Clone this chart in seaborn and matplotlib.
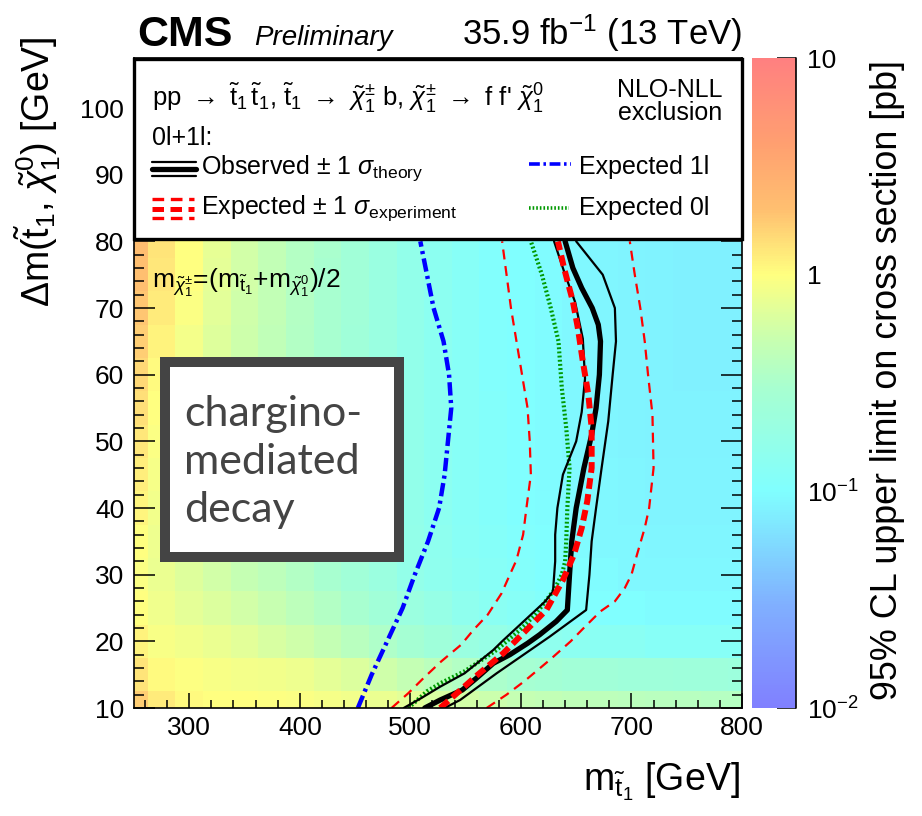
import numpy as np
import matplotlib
matplotlib.use("Agg")
import matplotlib.pyplot as plt
import seaborn as sns
from matplotlib.colors import LinearSegmentedColormap, LogNorm
from matplotlib.patches import Rectangle
from matplotlib.lines import Line2D
from matplotlib.ticker import MultipleLocator, LogLocator, NullFormatter

# upper limit map: stop mass (columns) x delta m (rows), values in pb
mstop = [250, 275, 300, 325, 350, 375, 400, 425, 450, 475, 500, 525,
         550, 575, 600, 625, 650, 675, 700, 725, 750, 775, 800]
dm = [10, 15, 20, 25, 30, 35, 40, 45, 50, 55, 60, 65, 70, 75, 80]
xsec_limit = [
    [1.7, 1.25, 1.05, 1.0, 1.0, 0.98, 0.95, 0.9, 0.85, 0.78, 0.7, 0.62, 0.56, 0.52, 0.48, 0.45, 0.43, 0.42, 0.41, 0.40, 0.39, 0.38, 0.38],
    [1.35, 1.05, 0.98, 0.92, 0.88, 0.84, 0.8, 0.72, 0.64, 0.55, 0.47, 0.41, 0.36, 0.32, 0.29, 0.27, 0.26, 0.25, 0.24, 0.24, 0.23, 0.23, 0.22],
    [1.15, 0.92, 0.85, 0.78, 0.7, 0.62, 0.55, 0.47, 0.4, 0.34, 0.28, 0.24, 0.2, 0.18, 0.16, 0.15, 0.14, 0.13, 0.13, 0.12, 0.12, 0.12, 0.12],
    [1.0, 0.82, 0.72, 0.64, 0.56, 0.49, 0.42, 0.36, 0.3, 0.25, 0.21, 0.18, 0.15, 0.13, 0.12, 0.11, 0.105, 0.1, 0.1, 0.095, 0.095, 0.095, 0.095],
    [0.95, 0.78, 0.66, 0.56, 0.48, 0.42, 0.36, 0.3, 0.25, 0.21, 0.17, 0.15, 0.13, 0.12, 0.11, 0.1, 0.1, 0.095, 0.09, 0.09, 0.09, 0.09, 0.09],
    [1.0, 0.8, 0.68, 0.57, 0.48, 0.41, 0.35, 0.29, 0.24, 0.2, 0.17, 0.145, 0.125, 0.115, 0.105, 0.1, 0.095, 0.09, 0.09, 0.088, 0.088, 0.088, 0.088],
    [1.1, 0.85, 0.7, 0.58, 0.48, 0.41, 0.35, 0.29, 0.24, 0.2, 0.165, 0.14, 0.12, 0.11, 0.1, 0.097, 0.093, 0.09, 0.088, 0.086, 0.086, 0.086, 0.086],
    [1.2, 0.9, 0.72, 0.59, 0.49, 0.41, 0.35, 0.29, 0.24, 0.2, 0.165, 0.14, 0.12, 0.11, 0.1, 0.095, 0.092, 0.09, 0.087, 0.085, 0.085, 0.085, 0.085],
    [1.3, 0.95, 0.75, 0.6, 0.5, 0.42, 0.35, 0.29, 0.24, 0.2, 0.165, 0.14, 0.12, 0.108, 0.1, 0.095, 0.09, 0.088, 0.086, 0.084, 0.084, 0.084, 0.084],
    [1.4, 1.0, 0.78, 0.62, 0.51, 0.42, 0.35, 0.29, 0.24, 0.2, 0.165, 0.14, 0.12, 0.108, 0.1, 0.094, 0.09, 0.087, 0.085, 0.083, 0.083, 0.083, 0.083],
    [1.55, 1.05, 0.82, 0.64, 0.52, 0.43, 0.36, 0.3, 0.245, 0.2, 0.165, 0.14, 0.12, 0.107, 0.1, 0.094, 0.09, 0.087, 0.085, 0.083, 0.082, 0.082, 0.082],
    [1.7, 1.15, 0.88, 0.67, 0.54, 0.44, 0.36, 0.3, 0.245, 0.2, 0.165, 0.14, 0.12, 0.107, 0.1, 0.094, 0.09, 0.087, 0.085, 0.083, 0.082, 0.082, 0.082],
    [1.85, 1.25, 0.95, 0.7, 0.55, 0.45, 0.37, 0.3, 0.25, 0.2, 0.165, 0.14, 0.12, 0.107, 0.1, 0.094, 0.09, 0.087, 0.085, 0.083, 0.082, 0.082, 0.082],
    [2.0, 1.3, 1.0, 0.72, 0.56, 0.45, 0.37, 0.3, 0.25, 0.2, 0.165, 0.14, 0.12, 0.107, 0.1, 0.094, 0.09, 0.087, 0.085, 0.083, 0.082, 0.082, 0.082],
    [2.1, 1.35, 1.0, 0.74, 0.57, 0.46, 0.37, 0.31, 0.25, 0.2, 0.165, 0.14, 0.12, 0.107, 0.1, 0.094, 0.09, 0.087, 0.085, 0.083, 0.082, 0.082, 0.082],
]

# exclusion contours (delta m, stop mass)
obs_dm = [10, 11.2, 12.7, 14.5, 16.7, 18, 19.7, 21, 23, 24.7, 30, 35, 40, 46, 51, 55, 60, 65, 67.5, 70, 73, 76, 80]
obs_m = [513, 527, 547, 560, 575, 590, 606, 617, 632, 642, 644, 646, 650, 657, 664, 668, 671, 672, 670, 664.5, 655, 647, 640]
obs_lo_dm = [10, 11.5, 13.2, 15.2, 18.7, 20, 22, 24, 26, 27.5, 32, 36, 40, 45, 50, 54.4, 59.4, 65.4, 70.9, 75, 80]
obs_lo_m = [494, 510, 527, 549, 575, 583, 596, 609, 622, 629, 631, 631, 633, 638, 650, 655, 658, 656, 649, 640, 630]
obs_hi_dm = [10, 11.2, 15.2, 20.7, 24.7, 30, 35, 40, 46, 53, 60, 65, 70, 75, 80]
obs_hi_m = [531, 545, 578, 626, 659, 662, 664, 668, 673, 679, 683, 686, 685, 674, 650]
exp_dm = [10, 12.2, 15, 18.2, 21.2, 24.7, 29.2, 33, 37, 41, 46, 52, 57, 62, 67, 71, 76, 80]
exp_m = [527, 542, 561, 584, 602, 623, 638, 648, 655, 660, 664, 664, 661, 656, 651.5, 647, 639, 633.5]
exp_lo_dm = [10, 12.2, 14.5, 17, 19.5, 21.7, 24, 27.2, 30, 32.2, 36, 40, 45, 50, 55, 60, 65, 70, 75, 80]
exp_lo_m = [483, 498, 512, 528, 546, 557, 570, 582.5, 590, 596, 602, 605, 609, 608, 606, 601, 596, 591, 587, 583]
exp_hi_dm = [10, 12, 14, 17.2, 20, 22.2, 24.5, 26, 28, 30, 33, 37, 40, 46, 54, 60, 65, 70, 75, 80]
exp_hi_m = [569, 587, 603, 626, 645, 658, 672, 685, 694, 700, 705, 712, 716, 720, 719, 715, 712, 708, 703, 698.5]
exp1l_dm = [10, 15, 20, 25, 30, 35, 40, 45, 50, 55, 60, 65, 70, 75, 80]
exp1l_m = [452.5, 465, 479, 493, 504, 516, 526, 531, 534, 537, 535, 530, 521, 515, 509]
exp0l_dm = [10, 11, 12.5, 13.7, 15.5, 18.7, 21.7, 24, 27.7, 30, 32, 35, 40, 46, 52, 58, 65, 70, 75, 80]
exp0l_m = [498, 505, 515, 527, 549, 578, 599, 613, 630, 637, 640, 641, 642, 644, 641, 637, 634, 627, 619, 609]

W, H = 922, 816


def fx(px):
    return px / W


def fy(py):
    return 1 - py / H


sns.set_style("ticks")
plt.rcParams["font.family"] = ["Liberation Sans", "DejaVu Sans"]
plt.rcParams["mathtext.fontset"] = "custom"
plt.rcParams["mathtext.rm"] = "Liberation Sans"
plt.rcParams["mathtext.it"] = "Liberation Sans:italic"
plt.rcParams["mathtext.bf"] = "Liberation Sans:bold"
plt.rcParams["mathtext.sf"] = "Liberation Sans"
for key in ["text.color", "axes.labelcolor", "xtick.color", "ytick.color",
            "xtick.labelcolor", "ytick.labelcolor"]:
    plt.rcParams[key] = "black"

# pastel rainbow palette, positions in log10 space from 1e-2 to 10
pal = LinearSegmentedColormap.from_list("root_rainbow", [
    (0.0, "#8080ff"), (0.159, "#80b0ff"), (0.333, "#80ffff"),
    (0.493, "#a8ffd0"), (0.567, "#c8ffb0"), (0.667, "#ffff80"),
    (0.767, "#ffc070"), (0.867, "#ffa070"), (1.0, "#ff8080")])
norm = LogNorm(vmin=0.01, vmax=10)

fig = plt.figure(figsize=(W / 100, H / 100), dpi=100)
ax = fig.add_axes([fx(134), fy(708), (742 - 134) / W, (708 - 58) / H])
cax = fig.add_axes([fx(752), fy(708), 44 / W, 650 / H])

mesh = ax.pcolormesh(mstop, dm, np.array(xsec_limit), cmap=pal, norm=norm,
                     shading="nearest", zorder=0)

sns.lineplot(x=exp1l_m, y=exp1l_dm, sort=False, estimator=None, ax=ax,
             color="#0000ff", linewidth=3.2, linestyle=(0, (3, 1, 0.7, 1)))
sns.lineplot(x=exp0l_m, y=exp0l_dm, sort=False, estimator=None, ax=ax,
             color="#009900", linewidth=3.0, linestyle=(0, (0.45, 0.55)))
for xs, ys in [(obs_lo_m, obs_lo_dm), (obs_hi_m, obs_hi_dm)]:
    sns.lineplot(x=xs, y=ys, sort=False, estimator=None, ax=ax,
                 color="black", linewidth=1.6)
sns.lineplot(x=obs_m, y=obs_dm, sort=False, estimator=None, ax=ax,
             color="black", linewidth=3.8)
for xs, ys in [(exp_lo_m, exp_lo_dm), (exp_hi_m, exp_hi_dm)]:
    sns.lineplot(x=xs, y=ys, sort=False, estimator=None, ax=ax,
                 color="#ff0000", linewidth=1.6, linestyle=(0, (4.5, 3)))
sns.lineplot(x=exp_m, y=exp_dm, sort=False, estimator=None, ax=ax,
             color="#ff0000", linewidth=4.3, linestyle=(0, (1.8, 0.9)))

ax.set_xlim(250, 800)
ax.set_ylim(10, 107.5)
ax.set_xlabel("")
ax.set_ylabel("")
ax.xaxis.set_major_locator(MultipleLocator(100))
ax.xaxis.set_minor_locator(MultipleLocator(20))
ax.yaxis.set_major_locator(MultipleLocator(10))
ax.yaxis.set_minor_locator(MultipleLocator(2))
ax.tick_params(which="both", direction="in", top=True, right=True,
               labelsize=19, width=1.1, color="black", labelcolor="black")
ax.tick_params(axis="x", which="major", length=11, pad=6)
ax.tick_params(axis="x", which="minor", length=6)
ax.tick_params(axis="y", which="major", length=15, pad=7)
ax.tick_params(axis="y", which="minor", length=7)
for sp in ax.spines.values():
    sp.set_linewidth(1.2)
    sp.set_color("black")

cb = fig.colorbar(mesh, cax=cax)
cb.outline.set_visible(False)
cb.set_ticks([0.01, 0.1, 1, 10])
cb.set_ticklabels([r"$10^{-2}$", r"$10^{-1}$", "1", "10"])
cax.yaxis.set_minor_locator(LogLocator(subs=np.arange(2, 10)))
cax.yaxis.set_minor_formatter(NullFormatter())
cax.tick_params(which="both", direction="in", right=True, left=False,
                labelsize=19, width=1.1, pad=8, color="black",
                labelcolor="black")
cax.tick_params(which="major", length=14)
cax.tick_params(which="minor", length=7)
cax.add_artist(Line2D([1, 1], [0, 1], transform=cax.transAxes, color="black",
                      lw=1.2, clip_on=False))

# axis titles
fig.text(fx(740), fy(790), r"m$_{\tilde{\mathrm{t}}_{1}}$ [GeV]", ha="right",
         va="baseline", fontsize=27)
fig.text(fx(38), fy(36), r"$\Delta$m($\tilde{\mathrm{t}}_{1}$, $\tilde{\chi}^{0}_{1}$) [GeV]",
         rotation=90, ha="center", va="top", fontsize=27)
fig.text(fx(887), fy(60), "95% CL upper limit on cross section [pb]",
         rotation=90, ha="center", va="top", fontsize=25.8)

# header
fig.text(fx(137), fy(46), "CMS", fontsize=31, fontweight="bold", va="baseline")
fig.text(fx(254), fy(45), "Preliminary", fontsize=20, style="italic", va="baseline")
fig.text(fx(742), fy(45), r"35.9 fb$^{-1}$ (13 TeV)", fontsize=25,
         ha="right", va="baseline")

# legend panel
fig.add_artist(Rectangle((fx(134), fy(239)), (742 - 134) / W, (239 - 59) / H,
                         transform=fig.transFigure, facecolor="white",
                         edgecolor="black", lw=2.4, zorder=5))
proc = (r"pp $\rightarrow$ $\tilde{\mathrm{t}}_{1}\,\tilde{\mathrm{t}}_{1}$, $\tilde{\mathrm{t}}_{1}$"
        r" $\rightarrow$ $\tilde{\chi}^{\pm}_{1}$ b, $\tilde{\chi}^{\pm}_{1}$ $\rightarrow$ f f' $\tilde{\chi}^{0}_{1}$")
fig.text(fx(152), fy(98), proc, fontsize=18.5, va="center", zorder=6)
fig.text(fx(722), fy(90), "NLO-NLL", fontsize=18, ha="right", va="center", zorder=6)
fig.text(fx(722), fy(113), "exclusion", fontsize=18, ha="right", va="center", zorder=6)
fig.text(fx(152), fy(138), "0l+1l:", fontsize=18, va="center", zorder=6)


def sample(x0, x1, y, **kw):
    fig.add_artist(Line2D([fx(x0), fx(x1)], [fy(y), fy(y)],
                          transform=fig.transFigure, zorder=6, **kw))


sample(152, 196, 162, color="black", lw=1.6)
sample(152, 196, 169, color="black", lw=3.8)
sample(152, 196, 176, color="black", lw=1.6)
sample(152, 194, 199, color="#ff0000", lw=2.4, linestyle=(0, (3.5, 2)))
sample(152, 194, 209, color="#ff0000", lw=3.6, linestyle=(0, (2.3, 1.3)))
sample(152, 194, 218, color="#ff0000", lw=2.4, linestyle=(0, (3.5, 2)))
sample(529, 571, 164, color="#0000ff", lw=2.6, linestyle=(0, (3, 1, 0.7, 1)))
sample(529, 569, 208, color="#009900", lw=2.6, linestyle=(0, (0.45, 0.55)))

fig.text(fx(201), fy(168),
         r"Observed $\pm$ 1 $\sigma_{\mathrm{theory}}$", fontsize=18,
         va="center", zorder=6)
fig.text(fx(201), fy(208),
         r"Expected $\pm$ 1 $\sigma_{\mathrm{experiment}}$", fontsize=18,
         va="center", zorder=6)
fig.text(fx(579), fy(167), "Expected 1l", fontsize=18, va="center", zorder=6)
fig.text(fx(579), fy(208), "Expected 0l", fontsize=18, va="center", zorder=6)

# mass hypothesis
fig.text(fx(152), fy(283),
         r"m$_{\tilde{\chi}^{\pm}_{1}}$=(m$_{\tilde{\mathrm{t}}_{1}}$+m$_{\tilde{\chi}^{0}_{1}}$)/2",
         fontsize=19, va="center", zorder=6)

# chargino-mediated decay stamp
stamp = Rectangle((fx(165), fy(557)), (399 - 165) / W, (557 - 362) / H,
                  transform=fig.transFigure, facecolor="white",
                  edgecolor="#444444", lw=7.2, zorder=5, joinstyle="miter")
fig.add_artist(stamp)
for word, base in [("chargino-", 426), ("mediated", 474), ("decay", 522)]:
    fig.text(fx(184), fy(base), word, fontsize=31, family="Lato",
             color="#444444", va="baseline", zorder=6)

fig.savefig("out.png", dpi=100)
